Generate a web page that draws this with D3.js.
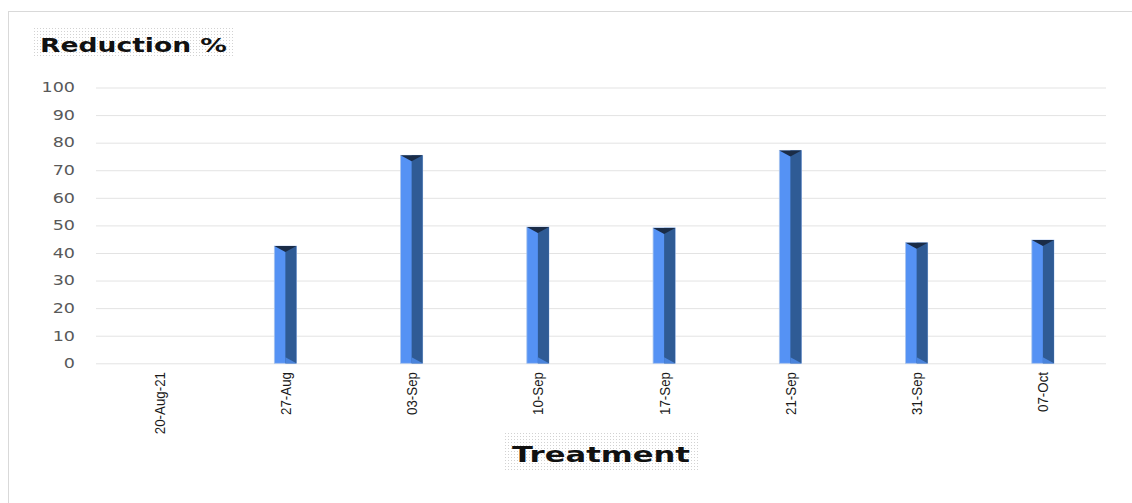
<!DOCTYPE html>
<html>
<head>
<meta charset="utf-8">
<script src="https://cdn.jsdelivr.net/npm/d3@7"></script>
<style>
  html, body { margin: 0; padding: 0; background: #fff; }
  svg { display: block; }
</style>
</head>
<body>
<svg id="chart" width="1132" height="503"></svg>
<script>
// Treatment dates and percentage reduction
const categories = ["20-Aug-21", "27-Aug", "03-Sep", "10-Sep", "17-Sep", "21-Sep", "31-Sep", "07-Oct"];
const values = [0, 42.5, 75.4, 49.4, 49.1, 77.2, 43.7, 44.7];
const yTicks = [0, 10, 20, 30, 40, 50, 60, 70, 80, 90, 100];

const svg = d3.select("#chart");
const W = 1132, H = 503;
const margin = { left: 96, right: 26, top: 87.5, bottom: 140 };
const wide = 1.3; // horizontal stretch of the lettering

// Dotted fill pattern for the title boxes
const defs = svg.append("defs");
const pat = defs.append("pattern").attr("id", "dots")
  .attr("width", 3).attr("height", 3).attr("patternUnits", "userSpaceOnUse");
pat.append("rect").attr("width", 3).attr("height", 3).attr("fill", "#fff");
pat.append("rect").attr("x", 1).attr("y", 1).attr("width", 1).attr("height", 1).attr("fill", "#d2d2d2");

// Chart frame
svg.append("rect").attr("x", 8.5).attr("y", 11.5).attr("width", 1200).attr("height", 600)
  .attr("fill", "none").attr("stroke", "#d9d9d9");

const pad = 0.825;
const x = d3.scaleBand().domain(categories).range([margin.left, W - margin.right])
  .paddingInner(pad).paddingOuter(pad / 2);
const y = d3.scaleLinear().domain([0, 100]).range([363.3, margin.top]);

// Gridlines and value ticks
const yAxis = d3.axisLeft(y).tickValues(yTicks).tickSize(-(W - margin.right - margin.left)).tickPadding(0);
const gy = svg.append("g").attr("transform", `translate(${margin.left},0)`).call(yAxis);
gy.select(".domain").remove();
gy.selectAll(".tick line").attr("stroke", "#e3e3e3").attr("stroke-width", 1);
gy.selectAll(".tick text")
  .attr("x", null)
  .attr("transform", `translate(-21,0) scale(${wide},1)`)
  .attr("fill", "#595959")
  .style("font-family", "'DejaVu Sans', Verdana, sans-serif").style("font-size", "13.5px");

// Bars with bevelled faces
const bars = svg.append("g").selectAll("g.bar").data(categories.map((c, i) => ({ c, v: values[i] })))
  .join("g").attr("class", "bar").filter(d => d.v > 0);

bars.each(function(d) {
  const g = d3.select(this);
  const x0 = x(d.c), bw = x.bandwidth(), x1 = x0 + bw;
  const yt = y(d.v), yb = y(0);
  const mid = x0 + bw * 0.5;
  g.append("rect").attr("x", x0).attr("y", yt).attr("width", bw).attr("height", yb - yt)
    .attr("fill", "#5592f4").attr("stroke", "#a9c4ee").attr("stroke-width", 0.8);
  g.append("rect").attr("x", mid).attr("y", yt).attr("width", x1 - mid).attr("height", yb - yt)
    .attr("fill", "#2f5b95");
  g.append("path").attr("d", `M${x0},${yt}L${x1},${yt}L${mid},${yt + 6}Z`).attr("fill", "#1a2c47");
  g.append("path").attr("d", `M${mid},${yb - 6}L${x1},${yb}L${mid},${yb}Z`).attr("fill", "#4a84dc");
});

// Rotated category labels (tall condensed lettering)
const gx = svg.append("g");
categories.forEach(c => {
  gx.append("text")
    .attr("transform", `translate(${x(c) + x.bandwidth() / 2 + 5.5},372) rotate(-90) scale(0.86,1)`)
    .attr("text-anchor", "end")
    .attr("fill", "#1a1a1a")
    .style("font-family", "'Liberation Sans Narrow', 'Arial Narrow', sans-serif")
    .style("font-size", "15.5px")
    .text(c);
});

// Chart title
svg.append("rect").attr("x", 32).attr("y", 28).attr("width", 202).attr("height", 30).attr("fill", "url(#dots)");
svg.append("text").attr("x", 40).attr("y", 52)
  .attr("textLength", 187).attr("lengthAdjust", "spacingAndGlyphs")
  .style("font-family", "'DejaVu Sans', sans-serif").style("font-weight", "bold").style("font-size", "20px")
  .attr("fill", "#111").text("Reduction %");

// Axis title
svg.append("rect").attr("x", 505).attr("y", 433).attr("width", 193).attr("height", 37).attr("fill", "url(#dots)");
svg.append("text").attr("x", 512).attr("y", 462)
  .attr("textLength", 178).attr("lengthAdjust", "spacingAndGlyphs")
  .style("font-family", "'DejaVu Sans', sans-serif").style("font-weight", "bold").style("font-size", "22px")
  .attr("fill", "#111").text("Treatment");
</script>
</body>
</html>
